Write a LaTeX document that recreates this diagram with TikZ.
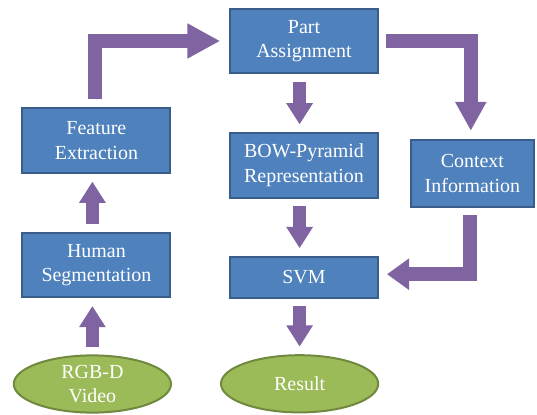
\documentclass[tikz,border=0pt]{standalone}
\usepackage{fontspec}
\setmainfont{Liberation Serif}
\usetikzlibrary{shapes.geometric, arrows.meta}
\definecolor{boxblue}{HTML}{4F81BD}
\definecolor{boxedge}{HTML}{385D8A}
\definecolor{ovalgreen}{HTML}{9BBB59}
\definecolor{ovaledge}{HTML}{71893F}
\definecolor{flowpurple}{HTML}{8064A2}
\tikzstyle{boxes} = [rectangle, minimum width=3.7cm, minimum height=1.62cm, align=center, fill=boxblue,
draw=boxedge, line width=0.05cm, text=white, font=\fontsize{14.2}{17.5}\selectfont]
\tikzstyle{oval} = [ellipse, minimum width=3.93cm, minimum height=1.43cm, inner sep=0pt, align=center,
fill=ovalgreen, draw=ovaledge, line width=0.05cm, text=white, font=\fontsize{14.2}{17.5}\selectfont]
\tikzstyle{arrow} = [flowpurple, line width=0.32cm, -{Triangle[width=0.63cm, length=0.53cm]},
shorten <=0.18cm, shorten >=0.19cm]
\tikzstyle{elbow} = [flowpurple, line width=0.36cm, line join=miter]

\begin{document}
\begin{tikzpicture}

    \useasboundingbox (0,0) rectangle (13.425,-10.375);

    \node (pa) [boxes] at (7.6,-1.025) {Part\\Assignment};

    \node (bow) [boxes, below of=pa, yshift=-2.11cm] {BOW-Pyramid\\Representation};

    \node (svm) [boxes, below of=bow, yshift=-1.8cm, minimum height=1.03cm] {SVM};

    \node (res) [oval, below of=svm, xshift=-0.11cm, yshift=-1.66cm] {Result};

    \node (ci) [boxes, right of=bow, xshift=3.21cm, yshift=-0.2cm, minimum width=3.08cm, minimum height=1.68cm] {Context\\Information};

    \node (fe) [boxes, left of=pa, xshift=-4.19cm, yshift=-2.49cm] {Feature\\Extraction};

    \node (hs) [boxes, below of=fe, yshift=-2.11cm] {Human\\Segmentation};

    \node (rgb) [oval, below of=hs, xshift=-0.1cm, yshift=-1.975cm] {RGB-D\\Video};

    \draw[arrow] (rgb.north) -- (rgb.north |- hs.south);
    \draw[arrow] (rgb.north |- hs.north) -- (rgb.north |- fe.south);
    \draw[elbow, -{Triangle[width=0.82cm, length=0.82cm]}] ([xshift=-0.04cm, yshift=0.2cm]fe.north) |- ([xshift=-0.22cm]pa.west);
    \draw[arrow] (res.north |- pa.south) -- (res.north |- bow.north);
    \draw[elbow, -{Triangle[width=0.73cm, length=0.72cm]}] ([xshift=0.18cm]pa.east) -| ([xshift=-0.04cm, yshift=0.2cm]ci.north);
    \draw[arrow] (res.north |- bow.south) -- (res.north |- svm.north);
    \draw[elbow, -{Triangle[width=0.75cm, length=0.55cm]}] ([xshift=-0.06cm, yshift=-0.18cm]ci.south) |- ([xshift=0.2cm, yshift=0.08cm]svm.east);
    \draw[arrow] (res.north |- svm.south) -- (res.north);

\end{tikzpicture}
\end{document}
